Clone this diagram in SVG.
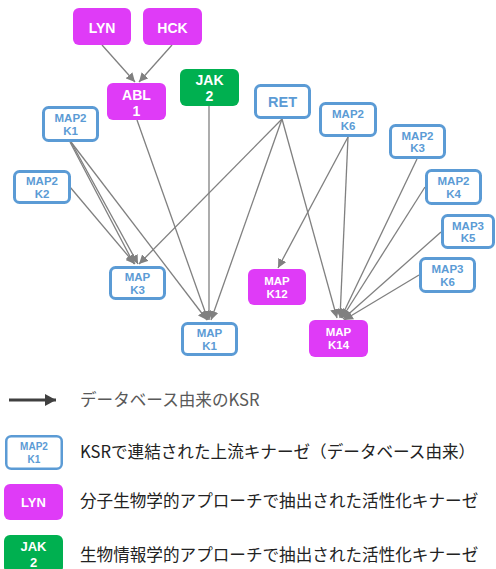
<svg xmlns="http://www.w3.org/2000/svg" width="496" height="569" viewBox="0 0 496 569">
<style>
.blue rect{fill:#fff;stroke:#5B9BD5;stroke-width:3}
.blue text{fill:#5B9BD5}
.mag rect{fill:#DF3BF7}
.grn rect{fill:#00B050}
.mag text,.grn text{fill:#fff}
text{font-family:"Liberation Sans",Arial,sans-serif;font-weight:bold;text-anchor:middle}
.s{font-size:11.5px}
.b{font-size:14px}
.lg{font-family:"Noto Sans CJK JP","Noto Sans",sans-serif;font-weight:normal;text-anchor:start;font-size:16.6px;fill:#222}
#edges line{stroke:#808080;stroke-width:1.3;marker-end:url(#ah)}
</style>
<defs>
<marker id="ah" markerUnits="userSpaceOnUse" markerWidth="10" markerHeight="9" refX="9" refY="4.5" orient="auto" viewBox="0 0 10 9">
<path d="M0,0 L9,4.5 L0,9 z" fill="#808080"/>
</marker>
<marker id="lah" markerUnits="userSpaceOnUse" markerWidth="12" markerHeight="12" refX="11" refY="6" orient="auto" viewBox="0 0 12 12">
<path d="M0,0 L11,6 L0,12 z" fill="#404040"/>
</marker>
</defs>
<g id="edges">
<line x1="102" y1="45" x2="135" y2="82"/>
<line x1="172" y1="45" x2="139" y2="82"/>
<line x1="137" y1="120" x2="208" y2="320"/>
<line x1="209" y1="106" x2="209" y2="320"/>
<line x1="70" y1="142" x2="134" y2="264"/>
<line x1="71" y1="142" x2="138" y2="264"/>
<line x1="71" y1="142" x2="207" y2="320"/>
<line x1="70" y1="187" x2="135" y2="264"/>
<line x1="282" y1="119" x2="139" y2="264"/>
<line x1="282" y1="119" x2="211" y2="320"/>
<line x1="282" y1="119" x2="337" y2="318"/>
<line x1="348" y1="137" x2="278" y2="268"/>
<line x1="348" y1="137" x2="340" y2="318"/>
<line x1="417" y1="159" x2="341" y2="318"/>
<line x1="425" y1="187" x2="342" y2="318"/>
<line x1="441" y1="232" x2="343" y2="319"/>
<line x1="419" y1="275" x2="344" y2="320"/>
</g>
<g id="LYN" class="mag"><rect x="73" y="8" width="58" height="37" rx="6"/><text class="b" x="102" y="32.5">LYN</text></g>
<g id="HCK" class="mag"><rect x="143" y="8" width="59" height="37" rx="6"/><text class="b" x="172.5" y="32.5">HCK</text></g>
<g id="ABL1" class="mag"><rect x="107" y="83" width="59" height="37" rx="6"/><text class="b" x="136.5" y="99.5">ABL</text><text class="b" x="136.5" y="115.5">1</text></g>
<g id="JAK2" class="grn"><rect x="180" y="69" width="59" height="37" rx="6"/><text class="b" x="209.5" y="85">JAK</text><text class="b" x="209.5" y="101">2</text></g>
<g id="RET" class="blue"><rect x="255.5" y="85.5" width="54" height="32" rx="5"/><text class="b" x="282.5" y="107" style="font-size:14.5px">RET</text></g>
<g id="MAP2K1" class="blue"><rect x="43.5" y="107.5" width="54" height="33" rx="5"/><text class="s" x="70.5" y="122">MAP2</text><text class="s" x="70.5" y="134.5">K1</text></g>
<g id="MAP2K2" class="blue"><rect x="14.5" y="171.5" width="55" height="31" rx="5"/><text class="s" x="42" y="185">MAP2</text><text class="s" x="42" y="197.5">K2</text></g>
<g id="MAP2K6" class="blue"><rect x="320.5" y="103.5" width="55" height="32" rx="5"/><text class="s" x="348" y="117.5">MAP2</text><text class="s" x="348" y="130">K6</text></g>
<g id="MAP2K3" class="blue"><rect x="390.5" y="125.5" width="54" height="32" rx="5"/><text class="s" x="417.5" y="139.5">MAP2</text><text class="s" x="417.5" y="152">K3</text></g>
<g id="MAP2K4" class="blue"><rect x="426.5" y="170.5" width="54" height="33" rx="5"/><text class="s" x="453.5" y="185">MAP2</text><text class="s" x="453.5" y="197.5">K4</text></g>
<g id="MAP3K5" class="blue"><rect x="442.5" y="215.5" width="51" height="32" rx="5"/><text class="s" x="468" y="229.5">MAP3</text><text class="s" x="468" y="242">K5</text></g>
<g id="MAP3K6" class="blue"><rect x="420.5" y="258.5" width="54" height="33" rx="5"/><text class="s" x="447.5" y="273">MAP3</text><text class="s" x="447.5" y="285.5">K6</text></g>
<g id="MAPK3" class="blue"><rect x="110.5" y="267.5" width="54" height="31" rx="5"/><text class="s" x="137.5" y="281">MAP</text><text class="s" x="137.5" y="293.5">K3</text></g>
<g id="MAPK1" class="blue"><rect x="182.5" y="323.5" width="54" height="31" rx="5"/><text class="s" x="209.5" y="337">MAP</text><text class="s" x="209.5" y="349.5">K1</text></g>
<g id="MAPK12" class="mag"><rect x="248" y="269" width="58" height="36" rx="6"/><text class="s" x="277" y="285">MAP</text><text class="s" x="277" y="298">K12</text></g>
<g id="MAPK14" class="mag"><rect x="309" y="320" width="59" height="37" rx="6"/><text class="s" x="338.5" y="336">MAP</text><text class="s" x="338.5" y="349">K14</text></g>
<g id="legend">
<line x1="9" y1="400" x2="56" y2="400" stroke="#404040" stroke-width="3" marker-end="url(#lah)"/>
<text class="lg" x="80" y="406" style="fill:#595959">データベース由来のKSR</text>
<g class="blue"><rect x="6.25" y="436.25" width="55.5" height="32.5" rx="5" style="stroke-width:2.5"/><text x="34" y="450" style="font-size:10px">MAP2</text><text x="34" y="463" style="font-size:10px">K1</text></g>
<text class="lg" x="80" y="458">KSRで連結された上流キナーゼ（データベース由来）</text>
<g class="mag"><rect x="4" y="484" width="59" height="36" rx="6"/><text x="33.5" y="507" style="font-size:13px">LYN</text></g>
<text class="lg" x="80" y="507">分子生物学的アプローチで抽出された活性化キナーゼ</text>
<g class="grn"><rect x="4" y="535" width="59" height="38" rx="6"/><text x="33.5" y="551" style="font-size:13px">JAK</text><text x="33.5" y="567" style="font-size:13px">2</text></g>
<text class="lg" x="80" y="561">生物情報学的アプローチで抽出された活性化キナーゼ</text>
</g>
</svg>
